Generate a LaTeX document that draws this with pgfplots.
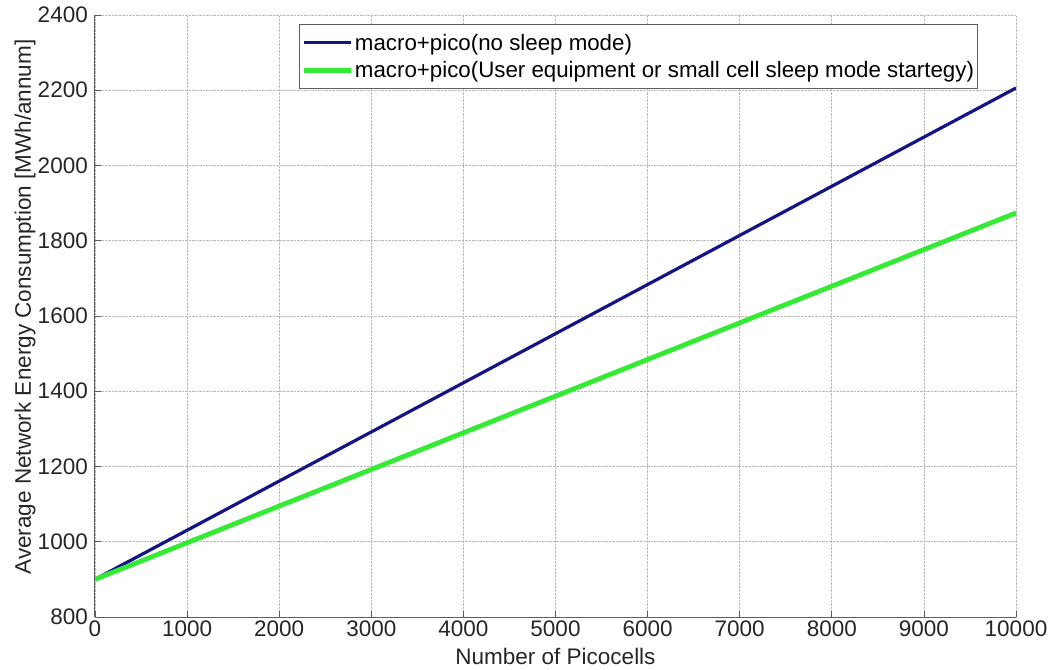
\documentclass[border=0pt]{standalone}
\usepackage{fontspec}
\setmainfont{Liberation Sans}
\usepackage{pgfplots}
\pgfplotsset{compat=1.18}
\definecolor{navyline}{RGB}{20,20,135}
\definecolor{greenline}{RGB}{50,235,50}
\definecolor{axgray}{RGB}{95,95,95}
\begin{document}
\begin{tikzpicture}
\begin{axis}[
  scale only axis, width=921pt, height=602pt,
  xmin=0, xmax=10000, ymin=800, ymax=2400,
  xtick={0,1000,...,10000}, ytick={800,1000,...,2400},
  scaled x ticks=false,
  /pgf/number format/1000 sep={},
  /pgf/number format/assume math mode=true,
  axis x line*=bottom, axis y line*=left,
  tick label style={font=\fontsize{22.5}{24}\selectfont, text=black!85},
  y tick label style={inner xsep=2pt, xshift=-5pt},
  label style={font=\fontsize{22.5}{24}\selectfont, text=black!85},
  grid=major, major grid style={densely dotted, gray!55, line width=0.8pt},
  tick align=inside, major tick length=6pt,
  tick style={axgray, line width=0.8pt},
  axis line style={axgray, line width=1pt, -},
  xlabel={Number of Picocells},
  ylabel={Average Network Energy Consumption [MWh/annum]},
  xlabel style={at={(axis description cs:0.5,-0.0797)}, anchor=base},
  ylabel style={at={(axis description cs:-0.0695,0.515)}, anchor=base},
  legend style={at={(axis description cs:0.9588,0.985)}, anchor=north east,
    font=\fontsize{22.3}{24}\selectfont, draw=axgray, line width=1pt,
    inner xsep=2pt, inner ysep=7.5pt, row sep=6pt, nodes={inner xsep=1.5pt},
    cells={anchor=west}},
  legend image code/.code={\draw[#1] (0pt,0pt) -- (47pt,0pt);},
]
\addplot[navyline, line width=3.2pt] coordinates {(0,900) (10000,2206)};
\addlegendentry{macro+pico(no sleep mode)}
\addplot[greenline, line width=4.8pt] coordinates {(0,900) (10000,1874)};
\addlegendentry{macro+pico(User equipment or small cell sleep mode startegy)}
\coordinate (sw) at (rel axis cs:0,0);
\coordinate (ne) at (rel axis cs:1,1);
\end{axis}
\pgfresetboundingbox
\path ([shift={(-95pt,-52pt)}]sw) rectangle ([shift={(41pt,15pt)}]ne);
\end{tikzpicture}
\end{document}
